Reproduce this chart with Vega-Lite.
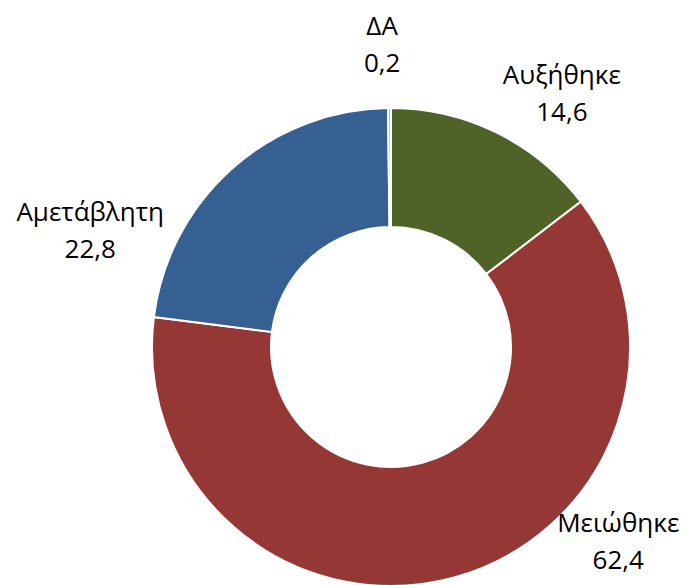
{
  "$schema": "https://vega.github.io/schema/vega-lite/v6.json",
  "width": 478,
  "height": 478,
  "autosize": {"type": "none"},
  "padding": {"left": 152, "top": 108, "right": 59, "bottom": 0},
  "background": "white",
  "config": {"view": {"stroke": null}},
  "data": {
    "values": [
      {"cat": "Αυξήθηκε", "value": 14.6, "ord": 1, "label": "Αυξήθηκε\n14,6"},
      {"cat": "Μειώθηκε", "value": 62.4, "ord": 2, "label": "Μειώθηκε\n62,4"},
      {"cat": "Αμετάβλητη", "value": 22.8, "ord": 3, "label": "Αμετάβλητη\n22,8"},
      {"cat": "ΔΑ", "value": 0.2, "ord": 4, "label": "ΔΑ\n0,2"}
    ]
  },
  "encoding": {
    "theta": {"field": "value", "type": "quantitative", "stack": true},
    "order": {"field": "ord", "type": "quantitative"}
  },
  "layer": [
    {
      "mark": {"type": "arc", "outerRadius": 239, "innerRadius": 120, "stroke": "white", "strokeWidth": 2},
      "encoding": {
        "color": {
          "field": "cat", "type": "nominal", "legend": null,
          "scale": {"domain": ["Αυξήθηκε", "Μειώθηκε", "Αμετάβλητη", "ΔΑ"], "range": ["#4f6228", "#953735", "#376092", "#a6b4c8"]}
        }
      }
    },
    {
      "mark": {"type": "text", "radius": 300, "font": "Open Sans", "fontSize": 26, "lineBreak": "\n", "lineHeight": 37, "color": "black", "align": "center", "baseline": "middle", "dx": 38, "dy": -2},
      "encoding": {"text": {"condition": {"test": "datum.cat === 'Αυξήθηκε'", "field": "label"}, "value": ""}}
    },
    {
      "mark": {"type": "text", "radius": 300, "font": "Open Sans", "fontSize": 26, "lineBreak": "\n", "lineHeight": 37, "color": "black", "align": "center", "baseline": "middle", "dx": 149, "dy": -113},
      "encoding": {"text": {"condition": {"test": "datum.cat === 'Μειώθηκε'", "field": "label"}, "value": ""}}
    },
    {
      "mark": {"type": "text", "radius": 300, "font": "Open Sans", "fontSize": 26, "lineBreak": "\n", "lineHeight": 37, "color": "black", "align": "center", "baseline": "middle", "dx": -101, "dy": 90},
      "encoding": {"text": {"condition": {"test": "datum.cat === 'Αμετάβλητη'", "field": "label"}, "value": ""}}
    },
    {
      "mark": {"type": "text", "radius": 300, "font": "Open Sans", "fontSize": 26, "lineBreak": "\n", "lineHeight": 37, "color": "black", "align": "center", "baseline": "middle", "dx": -7, "dy": -20},
      "encoding": {"text": {"condition": {"test": "datum.cat === 'ΔΑ'", "field": "label"}, "value": ""}}
    }
  ]
}
